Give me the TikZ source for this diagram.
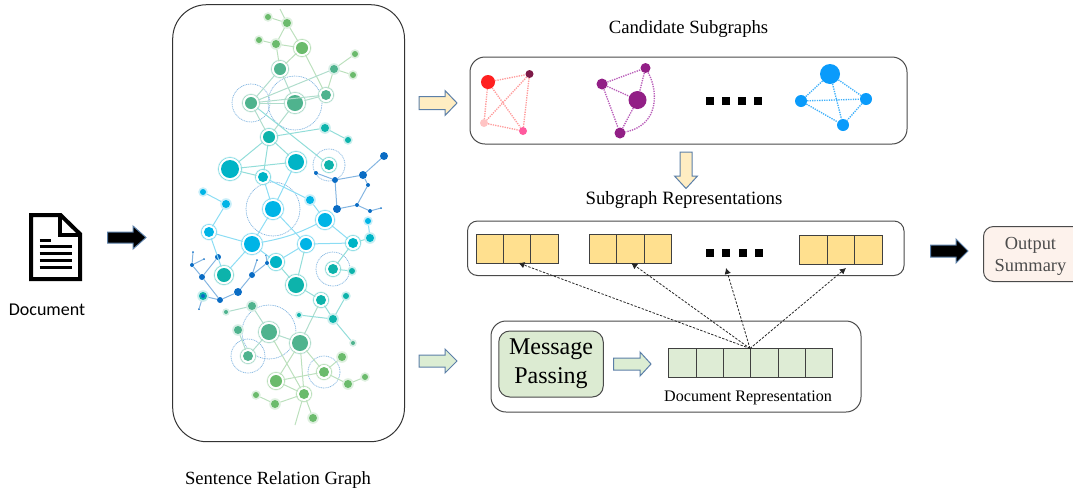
\documentclass[tikz,border=0pt]{standalone}
\usepackage{fontspec}
\setmainfont{Liberation Serif}
\newfontfamily\calib{Carlito}
\definecolor{gA}{HTML}{6BBB6C}
\definecolor{gB}{HTML}{4FB38E}
\definecolor{tA}{HTML}{0DB3AB}
\definecolor{tB}{HTML}{00B4C6}
\definecolor{cA}{HTML}{00B4E6}
\definecolor{bA}{HTML}{0A6CC4}
\definecolor{arrowedge}{HTML}{5B7FA8}
\definecolor{ycell}{HTML}{FFE08F}
\definecolor{gcell}{HTML}{DEECD5}
\definecolor{yarrow}{HTML}{FFEDC2}
\definecolor{garrow}{HTML}{DCEDD3}
\definecolor{mpfill}{HTML}{DCEBD2}
\definecolor{outfill}{HTML}{FDF2EC}
\definecolor{boxline}{HTML}{4A4A4A}
\definecolor{ringblue}{HTML}{7DB2DF}
\definecolor{redE}{HTML}{FF9C9C}
\definecolor{purE}{HTML}{B85CB8}
\definecolor{bluE}{HTML}{3FB0FA}
\definecolor{purN}{HTML}{921F86}
\definecolor{bluN}{HTML}{0A9BFB}
\definecolor{redA}{HTML}{FF2020}
\definecolor{redB}{HTML}{7E1A48}
\definecolor{redC}{HTML}{FFC4C4}
\definecolor{redD}{HTML}{FF5A9E}
\tikzset{
  x=1pt,y=-1pt,
  panel/.style={draw=boxline,line width=1pt,rounded corners=#1},
  cellbox/.style={draw=black!75,line width=.9pt,inner sep=0pt,outer sep=0pt,fill=#1},
  gedge/.style={draw=#1!45,line width=1pt},
  ring/.style={draw=ringblue,line width=.7pt,dash pattern=on 1pt off .8pt},
  subedge/.style={draw=#1,line width=1.35pt,dash pattern=on 1.3pt off 1.1pt},
  subnode/.style={circle,inner sep=0pt,fill=#1},
  dashedarrow/.style={draw=black!85,line width=.8pt,dash pattern=on 2.4pt off 1.5pt,-{Latex[length=6pt,width=6.5pt]}},
  blockA/.style={draw=arrowedge,line width=1pt,line join=miter},
  label/.style={inner sep=0pt,align=center},
}
\usetikzlibrary{arrows.meta}
% graph node: name x y r colour
\newcommand{\gn}[5]{%
  \ifnum#4>4
    \fill[#5!14] (#2,#3) circle ({#4+3.6});
    \fill[white] (#2,#3) circle ({#4+2.6});
    \draw[#5!55,line width=.5pt] (#2,#3) circle ({#4+2.6});
  \else
    \fill[#5!22] (#2,#3) circle ({#4+1.8});
  \fi
  \fill[#5] (#2,#3) circle (#4);
  \node[circle,inner sep=0pt,minimum size={2*#4+3}] (#1) at (#2,#3) {};
}
% plain blue graph node
\newcommand{\bn}[4]{%
  \fill[bA] (#2,#3) circle (#4);
  \node[circle,inner sep=0pt,minimum size={2*#4}] (#1) at (#2,#3) {};
}
\newcommand{\blockH}[7]{% x1 x2 y shafthalf headhalf headstart fill
  \draw[blockA,fill=#7] (#1,#3-#4) -- (#6,#3-#4) -- (#6,#3-#5) -- (#2,#3) -- (#6,#3+#5) -- (#6,#3+#4) -- (#1,#3+#4) -- cycle;}
\newcommand{\cellnode}[6]{% name x1 y1 x2 y2 fill
  \node[cellbox=#6,minimum width={#4-#2},minimum height={#5-#3}] (#1) at ({(#2+#4)/2},{(#3+#5)/2}) {};}
\newcommand{\sq}[2]{\fill[black] (#1-4,#2-4) rectangle (#1+4,#2+4);}
\begin{document}
\begin{tikzpicture}
\useasboundingbox (0,0) rectangle (1073,491);
% ---- document icon
\draw[black,line width=4pt,line join=miter] (31,215) -- (60.5,215) -- (80,234) -- (80,279) -- (31,279) -- cycle;
\draw[black,line width=3.4pt] (60,215) -- (60,235) -- (80,235);
\draw[black,line width=3pt] (39.5,240) -- (51,240);
\foreach \yy in {246.7,253.7,260.3,267} \draw[black,line width=3pt] (39.5,\yy) -- (72,\yy);
\node[label,font=\calib\fontsize{18}{20}\selectfont] (doclabel) at (47,310) {Document};
% ---- black arrows
\blockH{107.5}{146}{237.5}{5.5}{11.5}{133}{black}
\blockH{930.5}{968}{251}{6}{12}{956}{black}
% ---- sentence relation graph panel
\draw[panel=34pt,draw=black!80] (172.7,4.7) rectangle (404.5,441.7);
\node[label,font=\fontsize{18.6}{20}\selectfont] (srgtitle) at (278,480.5) {Sentence Relation Graph};
% dotted rings
\foreach \xx/\yy/\rr in {251/103/19, 295/103/27, 329/165/16, 273/209/27, 333/269/17, 269/332/27, 248/356/17, 324/372/16}
  \draw[ring] (\xx,\yy) circle (\rr);
% nodes
\gn{aA}{268}{17}{3}{gA}\gn{aB}{287}{23}{4}{gA}\gn{aC}{259}{40}{3}{gA}\gn{aD}{276}{44}{4}{gA}
\gn{aE}{302}{48}{6}{gA}\gn{aF}{280}{69}{6}{gB}\gn{aG}{355}{54}{3}{gA}\gn{aH}{334}{69}{4}{gB}
\gn{aI}{353}{75}{3}{gA}\gn{aJ}{326}{95}{5}{gB}\gn{aK}{251}{103}{6}{gB}\gn{aL}{295}{103}{8}{gB}
\gn{aM}{325}{128}{4}{tA}\gn{aN}{269}{137}{6}{tA}\gn{aO}{348}{140}{3}{tA}\gn{aP}{329}{165}{5}{tA}
\gn{aQ}{230}{169}{9}{tB}\gn{aR}{296}{162}{8}{tB}\gn{aS}{263}{177}{5}{tB}
\bn{bA}{384}{156}{4}\bn{bB}{363}{175}{4}\bn{bC}{368}{185}{2}\bn{bD}{335}{180}{3}
\bn{bE}{316}{173}{2}\bn{bF}{337}{209}{4}\bn{bG}{357}{205}{2}\bn{bH}{370}{211}{2}\bn{bI}{381}{208}{1}
\gn{cA}{203}{192}{3}{cA}\gn{cB}{226}{204}{4}{cA}\gn{cC}{273}{209}{8}{cA}\gn{cD}{310}{200}{4}{cA}
\gn{cE}{325}{220}{7}{cA}\gn{cF}{209}{232}{5}{cA}\gn{cG}{252}{244}{8}{cA}\gn{cH}{306}{244}{6}{cA}
\gn{cI}{353}{243}{5}{tB}\gn{cJ}{370}{238}{4}{tB}\gn{cK}{368}{221}{3}{cA}\gn{cL}{276}{262}{6}{tB}
\gn{cM}{224}{275}{7}{tA}\gn{cN}{333}{269}{5}{tA}\gn{cO}{352}{271}{3}{tA}\gn{cP}{296}{285}{8}{tA}
\bn{bJ}{218}{257}{3}\bn{bK}{202}{277}{3}\bn{bL}{192}{265}{2}\bn{bM}{193}{252}{1}
\bn{bN}{204}{259}{1}\gn{bO}{203}{296}{4}{tA}\bn{bP}{199}{309}{1}\bn{bQ}{220}{300}{3}
\bn{bR}{238}{292}{4}\bn{bS}{252}{275}{3}\bn{bT}{257}{260}{1}\bn{bU}{267}{263}{2}\bn{bV}{266}{255}{1}
\fill[bA] (203,296) circle (2);
\gn{dA}{321}{300}{5}{tA}\gn{dB}{346}{296}{3}{tA}\gn{dC}{333}{319}{4}{tA}\gn{dD}{299}{315}{2}{tA}
\gn{dE}{353}{343}{2}{gB}\gn{dF}{252}{306}{4}{gB}\gn{dG}{226}{312}{2}{gB}\gn{dH}{238}{330}{4}{gB}
\gn{dI}{269}{332}{8}{gB}\gn{dJ}{300}{343}{8}{gB}\gn{dK}{248}{356}{5}{gB}\gn{dL}{342}{357}{4}{gA}
\gn{dM}{324}{372}{5}{gA}\gn{dN}{348}{384}{4}{gA}\gn{dO}{365}{377}{3}{gA}\gn{dP}{276}{381}{6}{gA}
\gn{dQ}{304}{394}{5}{gA}\gn{dR}{256}{395}{3}{gA}\gn{dS}{275}{404}{4}{gA}\gn{dT}{313}{418}{4}{gA}
\coordinate (topend) at (280,9);
\coordinate (botend) at (295,425);
% edges
\foreach \p/\q in {topend/aB,aA/aB,aB/aD,aB/aE,aC/aD,aD/aE,aD/aF,aE/aF,aE/aJ,aH/aG,aH/aI,aH/aJ,
  dL/dM,dM/dN,dN/dO,dM/dP,dM/dJ,dJ/dP,dJ/dQ,dI/dQ,dP/dQ,dQ/dS,dS/dR,dQ/dT,dQ/botend}
  \draw[gedge=gA] (\p) -- (\q);
\foreach \p/\q in {aF/aK,aF/aL,aK/aL,aK/aH,aK/aJ,aL/aJ,aK/aN,aL/aN,dF/dG,dF/dI,dI/dJ,dI/dK,dH/dK,dA/dJ}
  \draw[gedge=gB] (\p) -- (\q);
\foreach \p/\q in {aK/aP,aN/aM,aM/aO,aN/aQ,aN/aR,aN/aS,aQ/aR,aQ/aS,cP/dA,dA/dC,dC/dB,dC/dD,dC/dE,cL/cP,cH/cP,cN/cO,cI/cN,cI/cJ}
  \draw[gedge=tA] (\p) -- (\q);
\foreach \p/\q in {aR/cC,aS/cC,aS/cD,cD/cE,cA/cB,cB/cF,cC/cG,cC/cH,cF/cG,cG/cM,cG/cL,cH/cL,cH/cI,cE/cI,cJ/cK,cF/cM}
  \draw[gedge=cA] (\p) -- (\q);
\draw[gedge=cA] (cG) to[bend right=8] (cE);
\foreach \p/\q in {bA/bB,bB/bC,bB/bD,bD/bE,bD/bF,bF/bG,bG/bC,bG/bH,bH/bI,bJ/bK,bK/bL,bL/bM,bL/bN,bK/bQ,bO/bQ,bQ/bR,bR/bS,bS/bT,bS/bU,bU/bV,bO/bP}
  \draw[draw=bA!50,line width=1pt] (\p) -- (\q);
% ---- candidate subgraphs
\node[label,font=\fontsize{18.7}{20}\selectfont] (candtitle) at (688.5,29.5) {Candidate Subgraphs};
\draw[panel=15pt] (470,57) rectangle (907,144);
\node[subnode=redA,minimum size=14pt] (rA) at (488,82) {};
\node[subnode=redB,minimum size=8pt] (rB) at (529.5,74) {};
\node[subnode=redC,minimum size=8pt] (rC) at (484,123) {};
\node[subnode=redD,minimum size=8pt] (rD) at (523,131) {};
\foreach \p/\q in {rA/rB,rA/rC,rA/rD,rB/rC,rB/rD,rC/rD} \draw[subedge=redE] (\p) -- (\q);
\node[subnode=purN,minimum size=11pt] (pA) at (602,84) {};
\node[subnode=purN,minimum size=10pt] (pB) at (645.5,68) {};
\node[subnode=purN,minimum size=18pt] (pC) at (637.5,100) {};
\node[subnode=purN,minimum size=11pt] (pD) at (620,133) {};
\foreach \p/\q in {pA/pB,pA/pC,pA/pD,pB/pC,pC/pD} \draw[subedge=purE] (\p) -- (\q);
\draw[subedge=purE] (pB) .. controls (658,90) and (660,125) .. (pD);
\sq{710}{101}\sq{726}{101}\sq{742}{101}\sq{758}{101}
\node[subnode=bluN,minimum size=20pt] (uA) at (830,74) {};
\node[subnode=bluN,minimum size=12pt] (uB) at (801,101) {};
\node[subnode=bluN,minimum size=12pt] (uC) at (866,99) {};
\node[subnode=bluN,minimum size=12pt] (uD) at (843,125) {};
\foreach \p/\q in {uA/uB,uA/uC,uA/uD,uB/uC,uB/uD,uC/uD} \draw[subedge=bluE] (\p) -- (\q);
% arrows in yellow and green
\blockH{419}{457}{103}{6.5}{12.5}{445}{yarrow}
\draw[blockA,fill=yarrow] (680,152) -- (692,152) -- (692,176) -- (697.5,176) -- (686,188.5) -- (674.5,176) -- (680,176) -- cycle;
\blockH{419}{457}{361}{6}{12}{445}{garrow}
\blockH{613.5}{651}{364}{6}{12}{640}{garrow}
% ---- subgraph representations
\node[label,font=\fontsize{18.8}{20}\selectfont] (reptitle) at (684,200) {Subgraph Representations};
\draw[panel=10pt] (467.5,221) rectangle (904,275.5);
\cellnode{yAa}{476}{234.5}{503}{263}{ycell}\cellnode{yAb}{503}{234.5}{530}{263}{ycell}\cellnode{yAc}{530}{234.5}{558}{263}{ycell}
\cellnode{yBa}{589}{234.5}{616.5}{263}{ycell}\cellnode{yBb}{616.5}{234.5}{644}{263}{ycell}\cellnode{yBc}{644}{234.5}{671.5}{263}{ycell}
\cellnode{yCa}{799}{235.5}{827}{264}{ycell}\cellnode{yCb}{827}{235.5}{854}{264}{ycell}\cellnode{yCc}{854}{235.5}{882}{264}{ycell}
\sq{710}{253}\sq{726}{253}\sq{743}{253}\sq{759}{253}
% ---- document representation
\draw[panel=15pt] (491,321) rectangle (861,412);
\node[draw=boxline,line width=1pt,fill=mpfill,rounded corners=11pt,inner sep=0pt,minimum width=104.5pt,minimum height=66pt,align=center,font=\fontsize{24}{29}\selectfont] (mp) at (551,364) {Message\\Passing};
\cellnode{gA}{668.5}{348}{696}{377}{gcell}\cellnode{gB}{696}{348}{723}{377}{gcell}\cellnode{gC}{723}{348}{750.5}{377}{gcell}
\cellnode{gD}{750.5}{348}{778}{377}{gcell}\cellnode{gE}{778}{348}{805}{377}{gcell}\cellnode{gF}{805}{348}{832.7}{377}{gcell}
\node[label,font=\fontsize{16.1}{18}\selectfont] (doctitle) at (748,397.5) {Document Representation};
\coordinate (fan) at (750,348.5);
\coordinate (dotsend) at (726,268);
\coordinate (rightend) at (846,268);
\draw[dashedarrow] (fan) -- ([xshift=2pt]yAb.south);
\draw[dashedarrow] (fan) -- ([xshift=1pt]yBb.south);
\draw[dashedarrow] (fan) -- (dotsend);
\draw[dashedarrow] (fan) -- (rightend);
% ---- output summary
\draw[boxline,line width=1pt,fill=outfill,rounded corners=10pt] (1080,226.5) -- (983.5,226.5) -- (983.5,281.5) -- (1080,281.5);
\node[label,text=black!70,font=\fontsize{18.4}{22}\selectfont] (outlabel) at (1030.5,256) {Output\\Summary};
\end{tikzpicture}
\end{document}
